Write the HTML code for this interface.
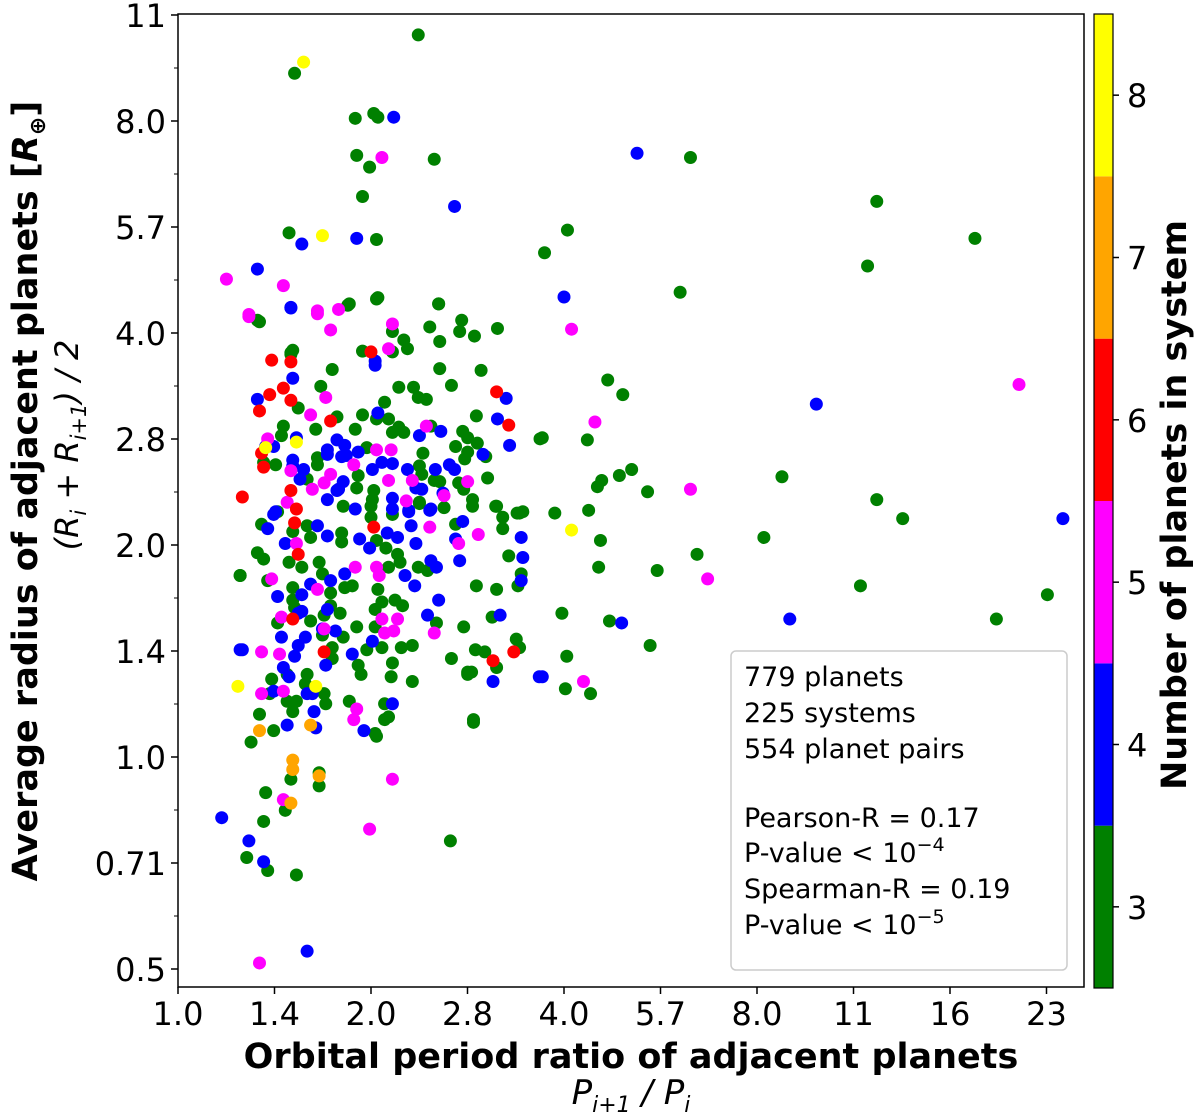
<!DOCTYPE html>
<html><head><meta charset="utf-8"><style>
body{margin:0;background:#fff;}
svg{display:block;font-family:"DejaVu Sans","Liberation Sans",sans-serif;}
</style></head><body>
<svg id="chart" width="1200" height="1116" viewBox="0 0 1200 1116" xmlns="http://www.w3.org/2000/svg">
<g id="points"></g>
<g id="axes"></g>
<g>
<rect x="731" y="651" width="336" height="319" rx="5" fill="#fff" fill-opacity="0.85" stroke="#ccc" stroke-width="1.5"/>
<text x="744" y="686" font-size="27">779 planets</text>
<text x="744" y="722" font-size="27">225 systems</text>
<text x="744" y="758" font-size="27">554 planet pairs</text>
<text x="744" y="827" font-size="27">Pearson-R = 0.17</text>
<text x="744" y="862" font-size="27">P-value &lt; 10<tspan font-size="19" dy="-11">−4</tspan></text>
<text x="744" y="898" font-size="27">Spearman-R = 0.19</text>
<text x="744" y="934" font-size="27">P-value &lt; 10<tspan font-size="19" dy="-11">−5</tspan></text>
</g>
<text x="631" y="1068" font-size="35" font-weight="bold" text-anchor="middle">Orbital period ratio of adjacent planets</text>
<text x="631" y="1104" font-size="34" font-style="italic" text-anchor="middle">P<tspan font-size="22" dy="8">i+1</tspan><tspan dy="-8"> / P</tspan><tspan font-size="22" dy="8">i</tspan></text>
<text transform="translate(37,491) rotate(-90)" font-size="35" font-weight="bold" text-anchor="middle">Average radius of adjacent planets [<tspan font-style="italic">R</tspan><tspan font-size="22" dy="8">⊕</tspan><tspan dy="-8">]</tspan></text>
<text transform="translate(78,445) rotate(-90)" font-size="32" font-style="italic" text-anchor="middle">(R<tspan font-size="21" dy="8">i</tspan><tspan dy="-8"> + R</tspan><tspan font-size="21" dy="8">i+1</tspan><tspan dy="-8">) / 2</tspan></text>
<g id="cbar"></g>
<text transform="translate(1186,505) rotate(-90)" font-size="35" font-weight="bold" text-anchor="middle">Number of planets in system</text>
</svg>
<script>
const xTicks=[1.0,1.4142,2.0,2.8284,4.0,5.6569,8.0,11.314,16,22.627];
const xTickLabels=["1.0","1.4","2.0","2.8","4.0","5.7","8.0","11","16","23"];
const yTicks=[0.5,0.7071,1.0,1.4142,2.0,2.8284,4.0,5.6569,8.0,11.314];
const yTickLabels=["0.5","0.71","1.0","1.4","2.0","2.8","4.0","5.7","8.0","11"];
const cbarLevels=[3,4,5,6,7,8];
const cbarColors=["#008000","#0000ff","#ff00ff","#ff0000","#ffa500","#ffff00"];

const ratio3=[2.37,1.52,1.89,2.02,2.05,1.9,2.51,1.99,6.3,1.94,12.3,1.49,2.04,4.05,3.73,17.5,11.9,6.07,1.84,2.05,2.55,1.33,4.68,4.94,3.7,4.35,4.88,5.1,5.4,4.51,4.58,3.87,4.37,4.56,4.53,5.59,6.45,8.75,8.2,12.3,13.5,11.6,22.7,18.9,5.45,4.71,3.97,4.04,4.02,4.4,3.37,3.14,2.91,2.83,2.89,2.66,1.53,1.38,1.28,1.36,1.37,1.30,1.25,2.03,2.10,1.5,1.66,1.66,1.47,1.34,1.39,1.48,1.5,1.51,1.45,1.36,
1.34,1.85,2.04,2.55,2.16,2.47,2.77,2.75,2.9,3.15,2.25,2.28,2.56,1.94,2.16,1.5,1.74,2.56,2.97,1.67,2.21,2.33,2.37,2.44,2.1,2.67,1.54,1.77,1.64,1.46,1.94,2.04,2.13,2.92,2.21,2.16,2.25,1.89,2.48,2.78,2.83,3.67,1.42,1.59,1.65,1.65,1.97,2.41,2.71,2.83,2.8,3.02,2.93,2.38,2.4,1.91,1.9,2.02,2.51,2.56,2.74,2.79,3.04,2.88,3.14,3.38,3.45,2.01,2.38,2.6,2.88,
1.43,1.35,1.51,1.59,1.61,1.8,1.8,1.81,2.0,2.0,2.16,2.38,2.04,2.11,2.2,2.22,2.37,2.45,2.71,3.13,3.21,3.21,3.41,3.28,3.43,3.39,3.14,2.92,1.33,1.36,1.49,1.56,1.66,1.25,1.38,1.51,1.68,1.73,1.82,1.87,2.13,2.05,1.51,1.52,1.73,1.79,1.69,2.03,2.08,2.18,2.24,1.43,1.61,1.9,2.03,2.53,2.79,3.09,1.68,1.81,2.08,1.97,1.74,1.74,2.23,2.32,1.91,1.93,2.16,2.15,2.32,2.67,3.01,3.41,2.83,2.87,1.4,1.48,1.59,1.58,1.69,1.7,1.53,1.51,1.85,2.1,2.13,2.04,2.89,1.41];
const radius3=[10.6,9.35,8.07,8.2,8.1,7.15,7.06,6.88,7.1,6.25,6.15,5.55,5.43,5.6,5.2,5.45,4.98,4.57,4.38,4.49,4.4,4.17,3.43,3.27,2.84,2.82,2.51,2.56,2.38,2.42,2.47,2.22,2.24,2.03,1.86,1.84,1.94,2.5,2.05,2.32,2.18,1.75,1.7,1.57,1.44,1.56,1.6,1.39,1.25,1.23,1.47,1.34,1.42,1.31,1.13,0.76,0.68,0.69,0.72,0.81,0.89,1.05,1.81,1.08,1.19,0.93,0.91,0.95,0.84,1.15,1.23,1.2,3.73,3.78,2.86,2.62,
4.15,4.4,4.47,4.4,4.02,4.08,4.17,4.02,3.96,4.06,3.91,3.8,3.89,3.77,3.76,3.75,3.55,3.56,3.54,3.36,3.35,3.35,3.24,3.22,3.19,3.37,3.13,3.04,2.92,2.95,3.06,3.02,3.02,3.05,2.94,2.89,2.89,2.92,2.95,2.9,2.84,2.83,2.6,2.48,2.66,2.6,2.75,2.7,2.76,2.71,2.65,2.67,2.79,2.59,2.52,2.51,2.41,2.39,2.47,2.46,2.45,2.4,2.49,2.32,2.27,2.22,2.23,2.32,2.3,2.26,2.27,
2.23,2.14,2.09,2.13,2.05,2.08,2.02,2.27,2.27,2.19,2.21,2.29,2.03,1.98,1.94,1.89,1.86,1.84,2.14,2.27,2.19,2.11,2.22,1.93,1.82,1.75,1.73,1.75,1.95,1.91,1.89,1.86,1.89,1.81,1.78,1.74,1.82,1.71,1.74,1.75,1.86,1.73,1.67,1.63,1.64,1.6,1.59,1.62,1.66,1.67,1.64,1.55,1.56,1.53,1.53,1.55,1.53,1.58,1.49,1.48,1.43,1.42,1.43,1.38,1.43,1.44,1.35,1.31,1.36,1.3,1.28,1.38,1.41,1.43,1.32,1.32,1.29,1.31,1.31,1.27,1.23,1.19,1.2,1.16,1.2,1.13,1.14,1.07,1.12,1.09];

const ratio4=[2.17,5.2,2.7,1.9,1.56,1.33,1.5,4.0,9.9,24,9.0,4.92,3.7,1.25,1.17,1.29,1.36,1.59,
1.5,2.03,2.03,1.51,1.33,3.25,2.05,3.15,2.57,2.38,3.29,1.37,1.41,1.53,1.51,1.51,1.57,1.55,1.71,1.71,1.77,1.82,1.8,1.83,1.91,2.99,2.08,2.16,2.01,2.28,2.52,2.65,2.7,1.81,1.78,2.35,2.4,2.59,1.42,1.71,1.77,1.89,2.16,2.29,2.48,
1.41,1.38,1.65,1.47,1.71,2.16,2.29,2.31,2.47,1.92,1.99,2.12,2.2,2.35,2.48,2.53,2.78,2.71,3.43,3.45,3.43,2.75,1.61,1.56,1.73,1.82,2.26,2.34,1.43,1.56,1.71,1.54,2.45,2.55,3.18,1.45,1.58,1.54,1.52,1.76,1.68,2.01,1.87,1.26,1.46,1.7,3.1,3.66,1.49,1.59,1.62,1.41,1.63,2.16,1.95,1.48,1.64];
const radius4=[8.1,7.2,6.05,5.45,5.35,4.93,4.35,4.5,3.17,2.18,1.57,1.55,1.3,1.42,0.82,0.76,0.71,0.53,
4.34,3.65,3.6,3.45,3.22,3.23,3.08,3.02,2.9,2.86,2.77,2.76,2.76,2.84,2.64,2.59,2.56,2.48,2.73,2.69,2.82,2.77,2.67,2.68,2.71,2.69,2.62,2.61,2.56,2.56,2.56,2.6,2.56,2.46,2.4,2.41,2.4,2.37,2.23,2.32,2.39,2.25,2.33,2.24,2.25,
2.21,2.11,2.13,2.01,2.06,2.25,2.23,2.13,2.24,2.04,1.98,2.08,2.05,2.01,1.9,1.86,2.16,2.04,2.05,1.92,1.78,1.9,1.76,1.7,1.78,1.82,1.81,1.75,1.69,1.61,1.62,1.6,1.59,1.67,1.59,1.48,1.48,1.44,1.39,1.51,1.52,1.46,1.4,1.42,1.34,1.35,1.28,1.3,1.3,1.23,1.23,1.24,1.16,1.19,1.09,1.11,1.1];

const ratio5=[1.19,1.29,1.46,1.65,2.08,4.11,4.47,20.5,6.3,6.7,4.29,2.16,1.99,1.46,1.34,
1.29,1.65,1.78,1.73,2.16,2.13,1.7,1.61,2.44,1.38,1.5,2.04,2.15,1.88,1.73,1.69,1.62,2.13,2.32,2.83,2.6,1.48,2.27,
1.53,2.47,2.74,2.94,1.4,1.65,1.89,2.04,2.06,1.45,2.08,2.2,2.1,2.17,2.51,1.69,1.35,1.44,1.35,1.46,1.9,1.88];
const radius5=[4.77,4.25,4.67,4.3,7.1,4.05,2.99,3.38,2.4,1.79,1.28,0.93,0.79,0.87,0.51,
4.22,4.26,4.32,4.04,4.12,3.8,3.24,3.06,2.95,2.83,2.55,2.73,2.73,2.6,2.52,2.45,2.4,2.47,2.47,2.46,2.35,2.3,2.31,
2.01,2.12,2.01,2.07,1.79,1.73,1.86,1.86,1.81,1.58,1.57,1.57,1.5,1.51,1.5,1.52,1.41,1.4,1.23,1.24,1.17,1.13];

const ratio6=[3.14,3.34,1.26,3.1,2.0,1.4,1.5,1.46,1.39,1.5,1.34,1.73,3.28,1.35,1.36,1.5,1.53,1.52,2.02,1.54,1.51,1.69];
const radius6=[3.3,1.41,2.34,1.37,3.76,3.66,3.64,3.34,3.27,3.21,3.1,3.0,2.96,2.7,2.58,2.39,2.25,2.15,2.12,1.94,1.57,1.41];

const ratio7=[1.34,1.51,1.61,1.51,1.5,1.66];
const radius7=[1.09,0.99,1.11,0.96,0.86,0.94];

const ratio8=[1.57,1.68,4.11,1.24,1.37,1.53,1.64];
const radius8=[9.7,5.5,2.1,1.26,2.75,2.8,1.26];

const NS="http://www.w3.org/2000/svg";
const L=178,R=1084,T=14,B=987;
function xScale(v){return 178+193*Math.log2(v);}
function yScale(v){return 757-212*Math.log2(v);}
function mk(tag,attrs,parent){const e=document.createElementNS(NS,tag);for(const k in attrs)e.setAttribute(k,attrs[k]);parent.appendChild(e);return e;}

const pts=document.getElementById('points');
const groups=[[ratio3,radius3,0],[ratio4,radius4,1],[ratio5,radius5,2],[ratio6,radius6,3],[ratio7,radius7,4],[ratio8,radius8,5]];
groups.forEach(g=>{
  const rx=g[0],ry=g[1],c=cbarColors[g[2]];
  for(let i=0;i<rx.length&&i<ry.length;i++){
    const el=mk('circle',{cx:xScale(rx[i]),cy:yScale(ry[i]),r:6.5,fill:c},pts);
    
    
  }
});

const ax=document.getElementById('axes');
const frame=mk('rect',{x:L,y:T,width:R-L,height:B-T,fill:'none',stroke:'#000','stroke-width':1.5},ax);


xTicks.forEach((v,i)=>{
  const x=xScale(v);
  mk('line',{x1:x,x2:x,y1:B,y2:B+7,stroke:'#000','stroke-width':1.5},ax);
  const t=mk('text',{x:x,y:B+38,'font-size':32,'text-anchor':'middle'},ax);
  t.textContent=xTickLabels[i];
  
  
});
yTicks.forEach((v,i)=>{
  const y=yScale(v);
  mk('line',{x1:L-7,x2:L,y1:y,y2:y,stroke:'#000','stroke-width':1.5},ax);
  if(i<yTicks.length-1){const ym=(y+yScale(yTicks[i+1]))/2;mk('line',{x1:L-4,x2:L,y1:ym,y2:ym,stroke:'#000','stroke-width':1},ax);}
  const t=mk('text',{x:L-12,y:y+12,'font-size':32,'text-anchor':'end'},ax);
  t.textContent=yTickLabels[i];
  
  
});

const cb=document.getElementById('cbar');
const cT=14,cB=988,cL=1094,cW=19,segH=(cB-cT)/cbarLevels.length;
cbarLevels.forEach((lv,i)=>{
  const y=cB-(i+1)*segH;
  const r=mk('rect',{x:cL,y:y,width:cW,height:segH,fill:cbarColors[i]},cb);
  
  
  const yc=y+segH/2;
  mk('line',{x1:cL+cW,x2:cL+cW+6,y1:yc,y2:yc,stroke:'#000','stroke-width':1.5},cb);
  const t=mk('text',{x:cL+cW+14,y:yc+12,'font-size':32},cb);
  t.textContent=lv;
  
  
});
mk('rect',{x:cL,y:cT,width:cW,height:cB-cT,fill:'none',stroke:'#000','stroke-width':1.2},cb);
</script>
</body></html>
